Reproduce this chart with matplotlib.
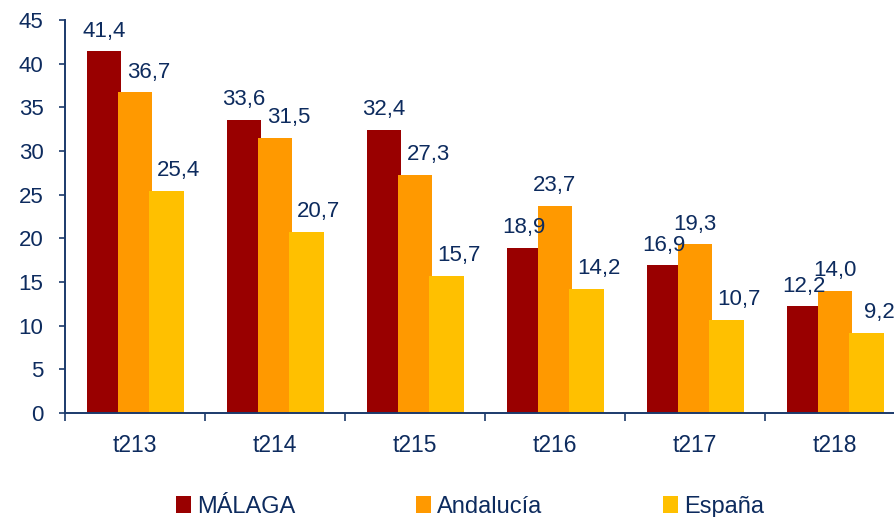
import numpy as np
import matplotlib.pyplot as plt

plt.rcParams['font.family'] = ['Liberation Sans', 'DejaVu Sans']

periodos = ['t213', 't214', 't215', 't216', 't217', 't218']
malaga = [41.4, 33.6, 32.4, 18.9, 16.9, 12.2]
andalucia = [36.7, 31.5, 27.3, 23.7, 19.3, 14.0]
espana = [25.4, 20.7, 15.7, 14.2, 10.7, 9.2]

navy = '#1b3a6b'
txt = '#0d2b5e'

fig = plt.figure(figsize=(8.95, 5.17), dpi=100)
ax = fig.add_axes([65 / 895, 104 / 517, 840 / 895, 393 / 517])

x = np.arange(len(periodos))
w = 0.245
b1 = ax.bar(x - 0.22, malaga, w, color='#990000', label='MÁLAGA')
b2 = ax.bar(x, andalucia, w, color='#ff9900', label='Andalucía')
b3 = ax.bar(x + 0.225, espana, w, color='#ffc000', label='España')

def fmt(v):
    return f'{v:.1f}'.replace('.', ',')

for i in range(len(x)):
    # etiquetas, con un pequeño corrimiento para que no se pisen
    ax.annotate(fmt(malaga[i]), (x[i] - 0.22, malaga[i]), xytext=(0, 7),
                textcoords='offset points', ha='center', va='bottom', fontsize=16, color=txt)
    dx = 10 if andalucia[i] < malaga[i] else 0
    ax.annotate(fmt(andalucia[i]), (x[i], andalucia[i]), xytext=(dx, 7),
                textcoords='offset points', ha='center', va='bottom', fontsize=16, color=txt)
    ax.annotate(fmt(espana[i]), (x[i] + 0.225, espana[i]), xytext=(9, 7),
                textcoords='offset points', ha='center', va='bottom', fontsize=16, color=txt)

ax.set_xlim(-0.5, len(x) - 0.5)
ax.set_ylim(0, 45)
ax.set_yticks(range(0, 46, 5))
ax.set_xticks(x)
ax.set_xticklabels(periodos)
ax.set_xticks(np.arange(-0.5, len(x), 1), minor=True)
ax.tick_params(axis='x', which='major', length=0, pad=15, labelsize=16.5, labelcolor=txt)
ax.tick_params(axis='x', which='minor', length=6, direction='out', color=navy, width=1.2)
ax.tick_params(axis='y', length=4.5, direction='out', color=navy, width=1.2,
               labelsize=16, labelcolor=txt, pad=11)

for s in ['top', 'right']:
    ax.spines[s].set_visible(False)
for s in ['left', 'bottom']:
    ax.spines[s].set_color(navy)
    ax.spines[s].set_linewidth(1.4)

leg = fig.legend(handles=[b1, b2, b3], loc='center', bbox_to_anchor=(0.525, 0.02), ncol=3,
                 frameon=False, fontsize=17, handlelength=0.65, handleheight=0.75,
                 handletextpad=0.25, columnspacing=5.1, borderaxespad=0)
for t in leg.get_texts():
    t.set_color(txt)

fig.savefig('out.png', dpi=100)
